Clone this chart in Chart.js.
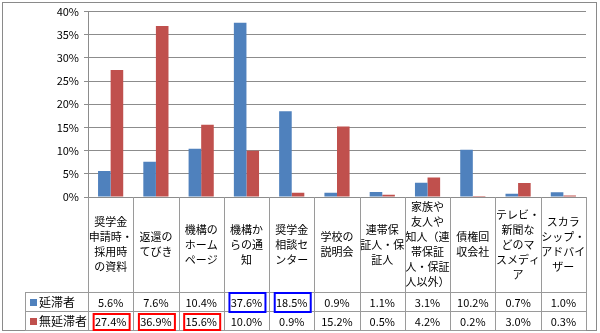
<!DOCTYPE html>
<html>
<head>
<meta charset="utf-8">
<script src="https://cdn.jsdelivr.net/npm/chart.js@4/dist/chart.umd.min.js"></script>
<style>
    html, body { margin: 0; padding: 0; background: #fff; }
    canvas { display: block; }
</style>
</head>
<body>
<canvas id="chart" width="600" height="333"></canvas>
<script>
// category labels, one array of lines per category
let categories = [
    ["奨学金", "申請時・", "採用時", "の資料"],
    ["返還の", "てびき"],
    ["機構の", "ホーム", "ページ"],
    ["機構か", "らの通", "知"],
    ["奨学金", "相談セ", "ンター"],
    ["学校の", "説明会"],
    ["連帯保", "証人・保", "証人"],
    ["家族や", "友人や", "知人（連", "帯保証", "人・保証", "人以外）"],
    ["債権回", "収会社"],
    ["テレビ・", "新聞な", "どのマ", "スメディ", "ア"],
    ["スカラ", "シップ・", "アドバイ", "ザー"]
];

let seriesNames = ["延滞者", "無延滞者"];
let delinquent = [5.6, 7.6, 10.4, 37.6, 18.5, 0.9, 1.1, 3.1, 10.2, 0.7, 1.0];
let nonDelinquent = [27.4, 36.9, 15.6, 10.0, 0.9, 15.2, 0.5, 4.2, 0.2, 3.0, 0.3];

// highlighted cells in the data table: [row, column]
let redBoxes = [[1, 0], [1, 1], [1, 2]];
let blueBoxes = [[0, 3], [0, 4]];

let colors = ["#4F81BD", "#C0504D"];
let lineColor = "#9a9a9a";
let font = "'Noto Sans CJK JP', 'Noto Sans', sans-serif";

let dataTablePlugin = {
    id: "dataTable",
    afterDraw(chart) {
        let ctx = chart.ctx;
        let area = chart.chartArea;
        let x = chart.scales.x;
        let n = categories.length;
        let w = (area.right - area.left) / n;
        let row1 = 292, row2 = 311, tableBottom = 330, leftCol = 25;

        ctx.save();

        // outer frame
        ctx.strokeStyle = "#8a8a8a";
        ctx.lineWidth = 1;
        ctx.strokeRect(2.5, 2.5, 594, 328);

        // table grid
        ctx.strokeStyle = lineColor;
        ctx.beginPath();
        for (let i = 0; i <= n; i++) {
            let bx = Math.round(area.left + i * w) + 0.5;
            ctx.moveTo(bx, area.bottom);
            ctx.lineTo(bx, tableBottom);
        }
        [row1, row2, tableBottom].forEach((y) => {
            ctx.moveTo(leftCol, y + 0.5);
            ctx.lineTo(area.right, y + 0.5);
        });
        ctx.moveTo(leftCol + 0.5, row1);
        ctx.lineTo(leftCol + 0.5, tableBottom);
        ctx.stroke();

        // category labels
        ctx.fillStyle = "#000";
        ctx.font = "11px " + font;
        ctx.textAlign = "center";
        ctx.textBaseline = "middle";
        let mid = (area.bottom + row1) / 2;
        let lh = 15;
        categories.forEach((lines, i) => {
            let cx = x.getPixelForValue(i);
            let y0 = mid - (lines.length - 1) * lh / 2;
            lines.forEach((t, j) => {
                ctx.fillText(t, cx, y0 + j * lh);
            });
        });

        // row headers with legend keys
        let rows = [delinquent, nonDelinquent];
        let rowY = [(row1 + row2) / 2 + 1, (row2 + tableBottom) / 2 + 1];
        ctx.font = "12px " + font;
        ctx.textAlign = "left";
        seriesNames.forEach((name, r) => {
            ctx.fillStyle = colors[r];
            ctx.fillRect(30, Math.round(rowY[r]) - 4, 7, 7);
            ctx.fillStyle = "#000";
            ctx.fillText(name, 39, rowY[r]);
        });

        // values
        ctx.font = "11px " + font;
        ctx.textAlign = "center";
        rows.forEach((vals, r) => {
            vals.forEach((v, i) => {
                ctx.fillText(v.toFixed(1) + "%", x.getPixelForValue(i), rowY[r]);
            });
        });

        // highlight boxes
        ctx.lineWidth = 2;
        let drawBox = (cell, color) => {
            let cx = x.getPixelForValue(cell[1]) + 1;
            let top = cell[0] === 0 ? row1 + 1 : row2 + 3;
            let bottom = cell[0] === 0 ? row2 + 1 : tableBottom;
            ctx.strokeStyle = color;
            ctx.strokeRect(cx - 18, top, 36, bottom - top);
        };
        redBoxes.forEach((c) => drawBox(c, "#ff0000"));
        blueBoxes.forEach((c) => drawBox(c, "#0000ff"));

        ctx.restore();
    }
};

new Chart(document.getElementById("chart").getContext("2d"), {
    type: "bar",
    data: {
        labels: categories.map((c) => c.join("")),
        datasets: [
            {
                label: seriesNames[0],
                data: delinquent,
                backgroundColor: colors[0],
                borderWidth: 0,
                categoryPercentage: 0.556,
                barPercentage: 1
            },
            {
                label: seriesNames[1],
                data: nonDelinquent,
                backgroundColor: colors[1],
                borderWidth: 0,
                categoryPercentage: 0.556,
                barPercentage: 1
            }
        ]
    },
    options: {
        responsive: false,
        animation: false,
        layout: {
            padding: { top: 9, right: 14, bottom: 136, left: 0 }
        },
        plugins: {
            legend: { display: false },
            tooltip: { enabled: false }
        },
        scales: {
            x: {
                display: false
            },
            y: {
                min: 0,
                max: 40,
                afterFit: (scale) => {
                    scale.width = 88;
                },
                ticks: {
                    stepSize: 5,
                    padding: 5,
                    color: "#000",
                    font: { family: font, size: 11 },
                    callback: (v) => v + "%"
                },
                grid: {
                    color: "#8c8c8c",
                    tickLength: 4
                },
                border: { color: "#8c8c8c" }
            }
        }
    },
    plugins: [dataTablePlugin]
});
</script>
</body>
</html>
